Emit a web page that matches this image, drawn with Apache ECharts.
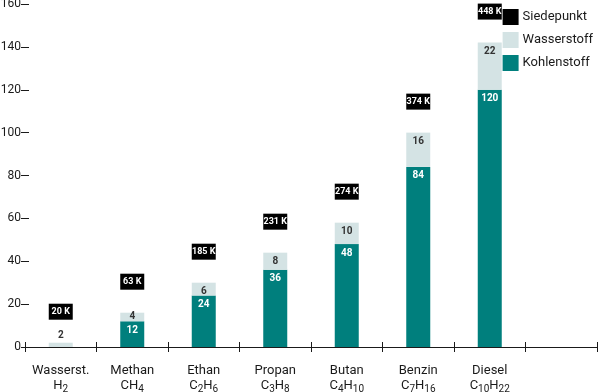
<!DOCTYPE html>
<html><head><meta charset="utf-8">
<script src="https://cdn.jsdelivr.net/npm/echarts@6/dist/echarts.min.js"></script>
<style>html,body{margin:0;padding:0;background:#fff}#c{width:600px;height:392px}</style>
</head><body><div id="c"></div>
<script>
var categories = ['Wasserst.', 'Methan', 'Ethan', 'Propan', 'Butan', 'Benzin', 'Diesel', ''];
var formulas = ['H_2', 'CH_4', 'C_2H_6', 'C_3H_8', 'C_4H_10', 'C_7H_16', 'C_10H_22', ''];
var carbon = [0, 12, 24, 36, 48, 84, 120];
var hydrogen = [2, 4, 6, 8, 10, 16, 22];
var boiling = [20, 63, 185, 231, 274, 374, 448];
var yTicks = [0, 20, 40, 60, 80, 100, 120, 140, 160];

var FONT = 'Roboto, "Liberation Sans", sans-serif';
var TEAL = '#007F7D', LIGHT = '#D4E3E4', INK = '#1a1a1a';

var totals = carbon.map(function (c, i) { return c + hydrogen[i]; });

var chart = echarts.init(document.getElementById('c'), null, {renderer: 'canvas'});
var opt = {
  animation: false,
  textStyle: {fontFamily: FONT},
  grid: {left: 25, right: 3, top: 4, bottom: 45, containLabel: false, outerBoundsMode: 'none'},
  legend: {
    right: 2, top: 4, orient: 'vertical', itemWidth: 16, itemHeight: 16, itemGap: 7,
    icon: 'rect', align: 'left',
    textStyle: {fontFamily: FONT, fontSize: 13, color: INK, padding: [0, 0, 0, -1]},
    data: ['Siedepunkt', 'Wasserstoff', 'Kohlenstoff']
  },
  xAxis: [{
    type: 'category', data: categories, boundaryGap: true,
    axisLine: {lineStyle: {color: INK, width: 1}},
    axisTick: {show: true, length: 5, alignWithLabel: false, lineStyle: {color: INK}},
    axisLabel: {
      interval: 0, margin: 16, color: INK, fontFamily: FONT, fontSize: 13, lineHeight: 15,
      formatter: function (v, i) {
        var f = (formulas[i] || '').split(/(_\d+)/).map(function (p) {
          if (!p) return '';
          return p.charAt(0) === '_' ? '{s|' + p.slice(1) + '}' : '{n|' + p + '}';
        }).join('');
        return '{n|' + v + '}\n' + f;
      },
      rich: {
        n: {fontFamily: FONT, fontSize: 13, color: INK, lineHeight: 15},
        s: {fontFamily: FONT, fontSize: 10, color: INK, lineHeight: 15, padding: [8, 0, 0, 0]}
      }
    }
  }, {
    type: 'category', data: categories, position: 'bottom',
    axisLine: {show: false},
    axisTick: {show: true, inside: true, length: 5, lineStyle: {color: INK}},
    axisLabel: {show: false}
  }],
  yAxis: [{
    type: 'value', min: 0, max: 160, interval: 20,
    axisLine: {show: false},
    axisTick: {show: true, length: 4, lineStyle: {color: INK}},
    splitLine: {show: false},
    axisLabel: {margin: 4, color: INK, fontFamily: FONT, fontSize: 12,
      formatter: function (v) { return yTicks.indexOf(v) >= 0 ? String(v) : ''; }}
  }, {
    type: 'value', min: 0, max: 160, interval: 20, position: 'left',
    axisLine: {show: false},
    axisTick: {show: true, inside: true, length: 4, lineStyle: {color: INK}},
    splitLine: {show: false},
    axisLabel: {show: false}
  }],
  series: [{
    name: 'Kohlenstoff', type: 'bar', stack: 't', barWidth: 24,
    itemStyle: {color: TEAL},
    label: {show: true, position: 'insideTop', distance: 4, color: '#fff', fontFamily: FONT,
      fontSize: 10, fontWeight: 'bold',
      formatter: function (p) { return p.value ? String(p.value) : ''; }},
    data: carbon
  }, {
    name: 'Wasserstoff', type: 'bar', stack: 't', barWidth: 24,
    itemStyle: {color: LIGHT},
    label: {show: true, position: 'insideTop', distance: 4, color: '#333', fontFamily: FONT,
      fontSize: 10, fontWeight: 'bold'},
    data: hydrogen.map(function (h, i) {
      if (carbon[i] === 0) return {value: h, label: {position: 'top', distance: 2}};
      if (h < 6) return {value: h, label: {position: 'inside'}};
      return h;
    })
  }, {
    name: 'Siedepunkt', type: 'scatter', symbol: 'rect', symbolSize: [24, 16],
    symbolOffset: [0, -31],
    itemStyle: {color: '#000', opacity: 1},
    label: {show: true, position: 'inside', color: '#fff', fontFamily: FONT,
      fontSize: 9, fontWeight: 'bold',
      formatter: function (p) { return boiling[p.dataIndex] + ' K'; }},
    data: totals
  }]
};
chart.setOption(opt);
</script>
</body></html>
